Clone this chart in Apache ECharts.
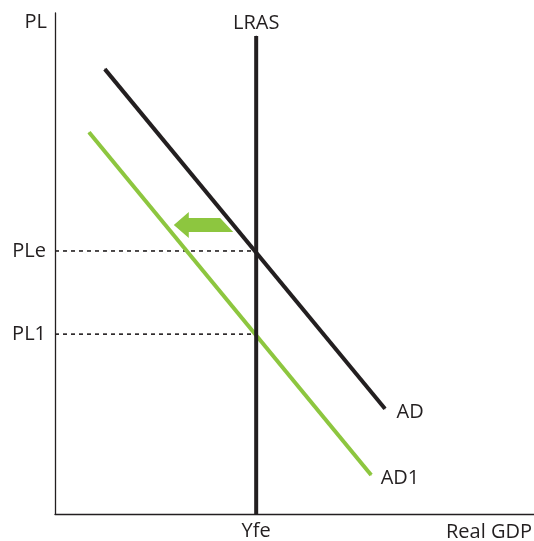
<!DOCTYPE html>
<html><head><meta charset="utf-8">
<script src="https://cdn.jsdelivr.net/npm/echarts@6/dist/echarts.min.js"></script>
<style>html,body{margin:0;padding:0;background:#fff}#c{width:534px;height:541px}</style>
</head><body><div id="c"></div>
<script>
// Data (abstract units)
const yfe = 4.2;
const lrasTop = 9.54;
const plE = 5.25;
const pl1 = 3.59;
const adPoints = [[1.04, 8.88], [6.89, 2.10]];
const ad1Points = [[0.71, 7.62], [6.60, 0.78]];
const arrowTip = [2.48, 5.77];
const arrowTail = [3.72, 5.77];
const yTickValues = [pl1, plE];
const yTickLabels = ['PL1', 'PLe'];
const xTickValues = [yfe];
const xTickLabels = ['Yfe'];

const ink = '#231f20';
const green = '#8dc63f';
const font = 'Open Sans';
const fs = 20;

const lbl = (text, pos, offset, dist) => ({
  show: true, formatter: text, position: pos, offset: offset, distance: dist || 5,
  color: ink, fontFamily: font, fontSize: fs
});

const chart = echarts.init(document.getElementById('c'));
chart.setOption({
  animation: false,
  grid: { left: 55, right: 0, top: 13, bottom: 27, outerBoundsMode: 'none', containLabel: false },
  xAxis: {
    type: 'value', min: 0, max: 10,
    axisLine: { show: true, lineStyle: { color: ink, width: 1.3 } },
    axisTick: { show: false },
    splitLine: { show: false },
    axisLabel: {
      customValues: xTickValues,
      formatter: v => xTickLabels[xTickValues.indexOf(v)] || '',
      color: ink, fontFamily: font, fontSize: fs, margin: 7
    },
    name: 'Real GDP',
    nameLocation: 'end',
    nameGap: -2,
    nameTextStyle: { color: ink, fontFamily: font, fontSize: fs, align: 'right', verticalAlign: 'top', padding: [8, 0, 0, 0] }
  },
  yAxis: {
    type: 'value', min: 0, max: 10,
    axisLine: { show: true, lineStyle: { color: ink, width: 1.3 } },
    axisTick: { show: false },
    splitLine: { show: false },
    axisLabel: {
      customValues: yTickValues,
      formatter: v => yTickLabels[yTickValues.indexOf(v)] || '',
      color: ink, fontFamily: font, fontSize: fs, margin: 9
    },
    name: 'PL',
    nameLocation: 'end',
    nameGap: -9,
    nameTextStyle: { color: ink, fontFamily: font, fontSize: fs, align: 'right', verticalAlign: 'middle', padding: [0, 8, 0, 0] }
  },
  series: [
    {
      type: 'line', data: [[0, plE], [yfe, plE]], symbol: 'none', silent: true,
      lineStyle: { color: ink, width: 1.6, type: [4, 4] }, z: 1
    },
    {
      type: 'line', data: [[0, pl1], [yfe, pl1]], symbol: 'none', silent: true,
      lineStyle: { color: ink, width: 1.6, type: [4, 4] }, z: 1
    },
    {
      type: 'line', symbol: 'circle', symbolSize: 1, showSymbol: true, showAllSymbol: true, silent: true,
      itemStyle: { color: ink },
      data: [[yfe, 0], { value: [yfe, lrasTop], label: lbl('LRAS', 'top', [0, 0], 2) }],
      lineStyle: { color: ink, width: 4, cap: 'butt' }, z: 3
    },
    {
      type: 'line', symbol: 'circle', symbolSize: 1, showSymbol: true, showAllSymbol: true, silent: true,
      itemStyle: { color: ink },
      data: [adPoints[0], { value: adPoints[1], label: lbl('AD', 'right', [6, 4]) }],
      lineStyle: { color: ink, width: 4, cap: 'butt' }, z: 2
    },
    {
      type: 'line', symbol: 'circle', symbolSize: 1, showSymbol: true, showAllSymbol: true, silent: true,
      itemStyle: { color: green },
      data: [ad1Points[0], { value: ad1Points[1], label: lbl('AD1', 'right', [4, 3]) }],
      lineStyle: { color: green, width: 4, cap: 'butt' }, z: 2
    },
    {
      type: 'custom', silent: true, z: 4,
      data: [[arrowTip[0], arrowTip[1], arrowTail[0], arrowTail[1]]],
      renderItem: function (params, api) {
        const t = api.coord([api.value(0), api.value(1)]);
        const e = api.coord([api.value(2), api.value(3)]);
        const hl = 15, hh = 13, sh = 7, slant = 13;
        const pts = [
          [t[0], t[1]],
          [t[0] + hl, t[1] - hh],
          [t[0] + hl, t[1] - sh],
          [e[0] - slant, t[1] - sh],
          [e[0], t[1] + sh],
          [t[0] + hl, t[1] + sh],
          [t[0] + hl, t[1] + hh]
        ];
        return { type: 'polygon', shape: { points: pts }, style: { fill: green } };
      }
    }
  ]
});
</script></body></html>
